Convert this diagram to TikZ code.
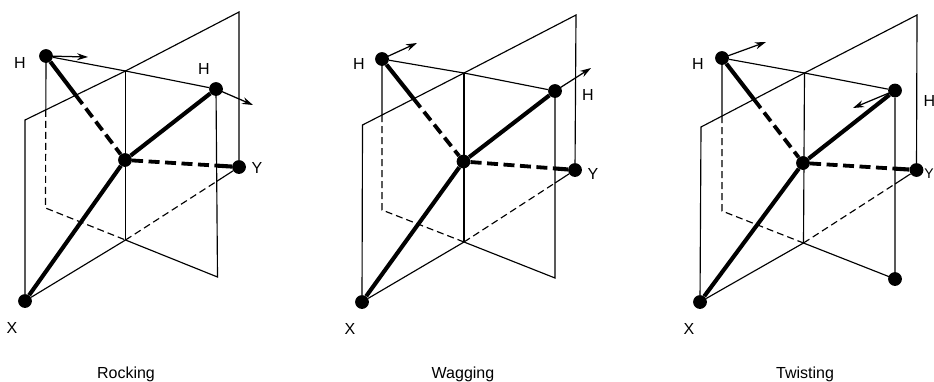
\documentclass[tikz,border=0pt]{standalone}
\usepackage{fontspec}
\setmainfont{Liberation Sans}
\usetikzlibrary{arrows.meta}
\tikzset{
  x=1pt,y=-1pt,
  atom/.style={circle,fill=black,draw=none,inner sep=0pt,minimum size=13.8pt},
  thinline/.style={line width=1.15pt,black},
  thindash/.style={thinline,dash pattern=on 7pt off 4pt},
  bond/.style={line width=4.1pt,black},
  bonddash/.style={bond,line width=3.8pt,dash pattern=on 11pt off 5.5pt},
  motion/.style={line width=1.25pt,black,-{Stealth[length=11pt,width=7pt]},shorten <=-2pt},
  lab/.style={anchor=base,font=\fontsize{16}{18}\selectfont,inner sep=0pt},
}
% #1 = prefix of a panel whose coordinates have been set
\newcommand{\planepanel}[1]{
  \path
    (intersection of #1H--#1C and #1L--#1T) coordinate (#1a)
    (intersection of #1H--#1BL and #1L--#1T) coordinate (#1b)
    (intersection of #1C--#1Y and #1K--#1R) coordinate (#1c)
    (intersection of #1B0--#1Y and #1K--#1R) coordinate (#1d);
  % first plane
  \draw[thinline] (#1X) -- (#1L) -- (#1T) -- (#1B) -- (#1Y);
  \draw[thinline] (#1X) -- (#1B0);
  \draw[thindash] (#1B0) -- (#1d);
  \draw[thinline] (#1d) -- (#1Y);
  % second plane
  \draw[thinline] (#1H) -- (#1T) -- (#1K) -- (#1R) -- (#1B0);
  \draw[thinline] (#1H) -- (#1b);
  \draw[thindash] (#1b) -- (#1BL) -- (#1B0);
  \draw[thinline] (#1T) -- (#1B0);
  % bonds
  \draw[bond] (#1X) -- (#1C);
  \draw[bond] (#1C) -- (#1K);
  \draw[bond] (#1H) -- (#1a);
  \draw[bonddash] (#1a) -- (#1C);
  \draw[bonddash] (#1C) -- (#1c);
  \draw[bond] (#1c) -- (#1Y);
}
\begin{document}
\begin{tikzpicture}
\useasboundingbox (0,0) rectangle (934,381);
\clip (0,0) rectangle (934,381);

% Rocking
\node[atom] (pH) at (46,56) {};
\node[atom] (pC) at (125,160) {};
\node[atom] (pK) at (216,89) {};
\node[atom] (pY) at (239,167) {};
\node[atom] (pX) at (25,301) {};
\coordinate (pL) at (25,120);
\coordinate (pT) at (125.5,71);
\coordinate (pB) at (239,12);
\coordinate (pB0) at (125.5,240);
\coordinate (pR) at (217.5,277);
\coordinate (pBL) at (45.5,208);
\planepanel{p}
\coordinate (pAa) at (88,57);
\coordinate (pAb) at (253,105);
\draw[motion] (pH) -- (pAa);
\draw[motion] (pK) -- (pAb);
\node[lab] (pl1) at (20,68) {H};
\node[lab] (pl2) at (204,74) {H};
\node[lab] (pl3) at (257,173) {Y};
\node[lab] (pl4) at (12,333) {X};
\node[lab] (pl5) at (126,378) {Rocking};

% Wagging
\node[atom] (qH) at (382,59) {};
\node[atom] (qC) at (463.5,161.5) {};
\node[atom] (qK) at (555,91) {};
\node[atom] (qY) at (575,170) {};
\node[atom] (qX) at (362,302) {};
\coordinate (qL) at (362.5,125);
\coordinate (qT) at (464,73);
\coordinate (qB) at (576,15);
\coordinate (qB0) at (464,242);
\coordinate (qR) at (555,278);
\coordinate (qBL) at (382,210);
\planepanel{q}
\coordinate (qAa) at (417,43);
\coordinate (qAb) at (591,68);
\draw[motion] (qH) -- (qAa);
\draw[motion] (qK) -- (qAb);
\node[lab] (ql1) at (359,69) {H};
\node[lab] (ql2) at (588,100) {H};
\node[lab] (ql3) at (593,179) {Y};
\node[lab] (ql4) at (350,334) {X};
\node[lab] (ql5) at (463,378) {Wagging};

% Twisting
\node[atom] (rH) at (722,58) {};
\node[atom] (rC) at (803,163) {};
\node[atom] (rK) at (895,90.5) {};
\node[atom] (rY) at (916.5,170) {};
\node[atom] (rX) at (700,302) {};
\node[atom] (rD) at (895,279) {};
\coordinate (rL) at (701,127);
\coordinate (rT) at (804.5,73);
\coordinate (rB) at (917,15);
\coordinate (rB0) at (803.5,243);
\coordinate (rR) at (895,279);
\coordinate (rBL) at (722,211);
\planepanel{r}
\coordinate (rAa) at (766,42);
\coordinate (rAb) at (853,108);
\draw[motion] (rH) -- (rAa);
\draw[motion] (rK) -- (rAb);
\node[lab] (rl1) at (698,69) {H};
\node[lab] (rl2) at (929.5,106) {H};
\node[lab,font=\fontsize{14}{16}\selectfont] (rl3) at (929,178) {Y};
\node[lab] (rl4) at (689,334) {X};
\node[lab] (rl5) at (805,378) {Twisting};
\end{tikzpicture}
\end{document}
